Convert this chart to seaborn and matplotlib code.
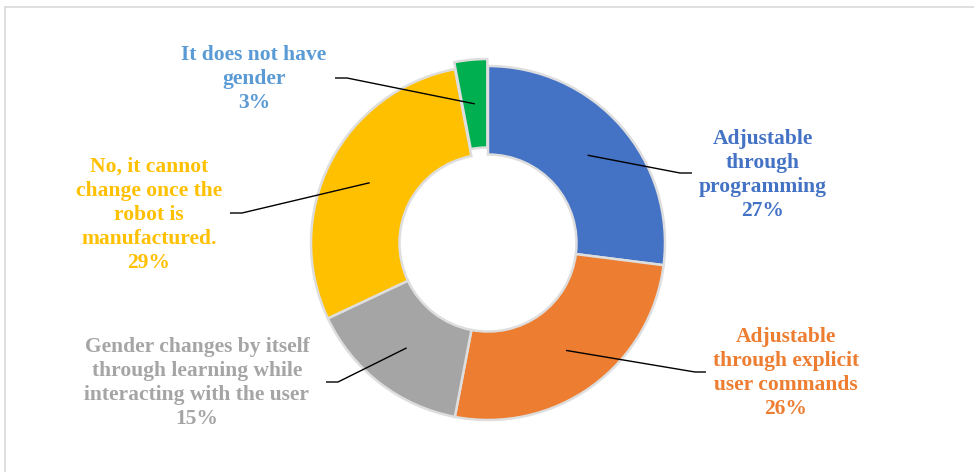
import matplotlib
matplotlib.use("Agg")
import matplotlib.pyplot as plt
import numpy as np
import seaborn as sns

# Survey answers: can the robot's gender change?
categories = [
    "Adjustable\nthrough\nprogramming",
    "Adjustable\nthrough explicit\nuser commands",
    "Gender changes by itself\nthrough learning while\ninteracting with the user",
    "No, it cannot\nchange once the\nrobot is\nmanufactured.",
    "It does not have\ngender",
]
shares = [27, 26, 15, 29, 3]

slice_colors = ["#4472C4", "#ED7D31", "#A5A5A5", "#FFC000", "#00B050"]
label_colors = ["#4472C4", "#ED7D31", "#A5A5A5", "#FFC000", "#5B9BD5"]
# pull-out distance of each wedge, in pixels
explode = [0, 0, 0, 0, 7]

# Label placement in pixel space (x, y from top): text centre, elbow, line end
label_layout = [
    dict(text=(763, 175), elbow=(680, 173), end=692),
    dict(text=(786, 373), elbow=(695, 372), end=706),
    dict(text=(197, 383), elbow=(338, 382), end=326),
    dict(text=(149, 215), elbow=(242, 213), end=230),
    dict(text=(254, 79), elbow=(347, 78), end=335),
]

sns.set_theme(style="white")
plt.rcParams["font.family"] = ["Liberation Serif", "DejaVu Serif"]

W, H = 974, 472
fig = plt.figure(figsize=(W / 100, H / 100), dpi=100)
ax = fig.add_axes([0, 0, 1, 1])


def py(y):
    return H - y


center = (488, py(243))
radius = 177
ring = 0.5

palette = sns.color_palette(slice_colors)
wedges, _ = ax.pie(
    shares,
    colors=palette,
    startangle=90,
    counterclock=False,
    radius=radius,
    center=center,
    explode=explode,
    wedgeprops=dict(width=radius * ring, edgecolor="#dedede", linewidth=1.8),
    frame=True,
)
ax.set_xlim(0, W)
ax.set_ylim(0, H)
ax.set_aspect("equal")
ax.axis("off")

# Leader lines start mid-ring at each wedge's middle angle
for w, cat, val, col, lay, ex in zip(wedges, categories, shares, label_colors,
                                     label_layout, explode):
    ang = np.deg2rad((w.theta1 + w.theta2) / 2)
    r_mid = radius * (1 - ring / 2) + ex
    ax0 = center[0] + r_mid * np.cos(ang)
    ay0 = center[1] + r_mid * np.sin(ang)
    ex_x, ex_y = lay["elbow"]
    ax.plot([ax0, ex_x, lay["end"]], [ay0, py(ex_y), py(ex_y)],
            color="black", lw=1.0, solid_capstyle="butt", zorder=5)
    tx, ty = lay["text"]
    ax.text(tx, py(ty), f"{cat}\n{val}%", color=col, fontsize=15.5,
            fontweight="bold", ha="center", va="center", multialignment="center",
            linespacing=1.27)

# Chart area border (top and left edges)
ax.plot([5, W], [py(7), py(7)], color="#d9d9d9", lw=1.2, clip_on=False)
ax.plot([5, 5], [py(7), 0], color="#d9d9d9", lw=1.2, clip_on=False)

fig.savefig("out.png", dpi=100)
